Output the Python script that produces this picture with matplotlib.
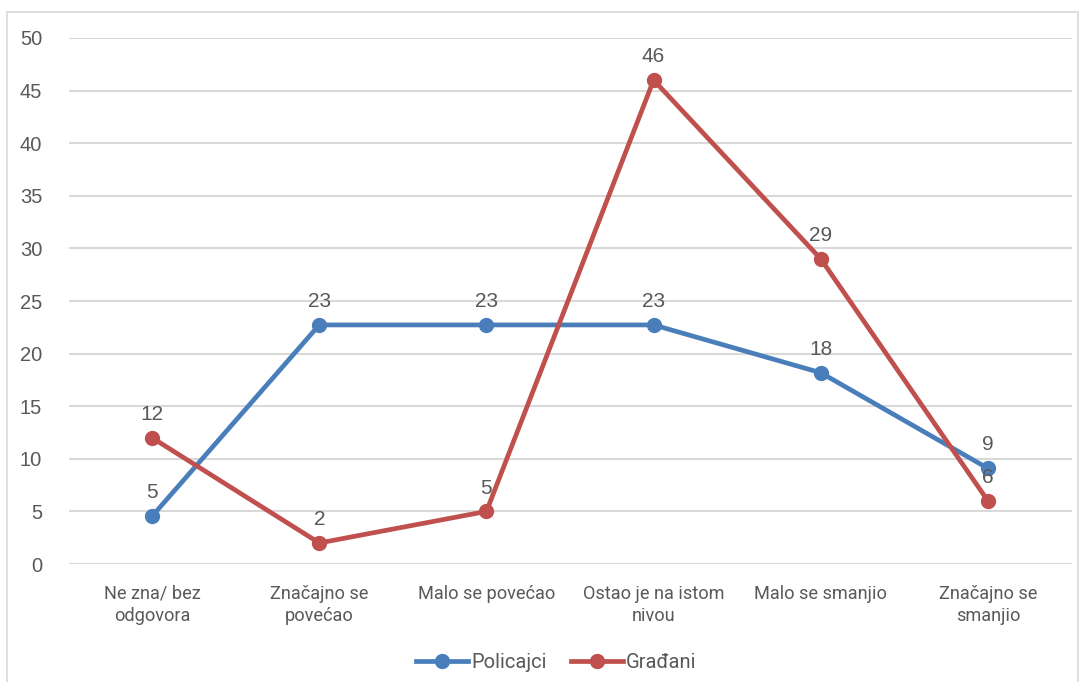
import matplotlib
matplotlib.use("Agg")
import matplotlib.pyplot as plt
from matplotlib.patches import Rectangle
from matplotlib.lines import Line2D

categories = ["Ne zna/ bez\nodgovora", "Značajno se\npovećao", "Malo se povećao",
              "Ostao je na istom\nnivou", "Malo se smanjio", "Značajno se\nsmanjio"]
policajci = [4.545, 22.727, 22.727, 22.727, 18.182, 9.091]
gradjani = [12, 2, 5, 46, 29, 6]
series_names = ["Policajci", "Građani"]
y_ticks = [0, 5, 10, 15, 20, 25, 30, 35, 40, 45, 50]

BLUE = "#4a7ebb"
RED = "#c0504d"
TEXT = "#595959"
GRID = "#d9d9d9"

fig = plt.figure(figsize=(10.84, 6.82), dpi=100)
ax = fig.add_axes([0.0632, 0.1730, 0.9253, 0.7713])

# chart frame
fig.patches.append(Rectangle((7 / 1084, -0.05), 1071 / 1084, 1.05 - 12 / 682,
                             transform=fig.transFigure, fill=False,
                             edgecolor=GRID, linewidth=1.2))

x = list(range(len(categories)))
for vals, color in ((policajci, BLUE), (gradjani, RED)):
    ax.plot(x, vals, color=color, linewidth=3.4, marker="o", markersize=10,
            solid_capstyle="round", zorder=3)
    for xi, v in zip(x, vals):
        ax.annotate(f"{v:.0f}", (xi, v), xytext=(0, 10), textcoords="offset points",
                    ha="center", va="bottom", fontsize=15, color=TEXT,
                    family="Liberation Sans", zorder=4)

ax.set_xlim(-0.5, len(categories) - 0.5)
ax.set_ylim(0, 50)
ax.set_yticks(y_ticks)
ax.set_xticks(x)
ax.set_xticklabels(categories, family="Roboto", fontsize=13.1, color=TEXT,
                   linespacing=1.33)
ax.set_yticklabels([str(t) for t in y_ticks], family="Liberation Sans",
                   fontsize=14.5, color=TEXT)
ax.tick_params(axis="both", length=0)
ax.tick_params(axis="y", pad=19)
ax.tick_params(axis="x", pad=15)
ax.grid(axis="y", color=GRID, linewidth=1.5)
ax.set_axisbelow(True)
for s in ax.spines.values():
    s.set_visible(False)

handles = [Line2D([], [], color=BLUE, linewidth=3.4, marker="o", markersize=10),
           Line2D([], [], color=RED, linewidth=3.4, marker="o", markersize=10)]
leg = fig.legend(handles, series_names, loc="center", bbox_to_anchor=(0.513, 0.029),
                 ncol=2, frameon=False, handlelength=2.6, handletextpad=0.15,
                 columnspacing=1.2, prop={"family": "Roboto", "size": 14.5})
for t in leg.get_texts():
    t.set_color(TEXT)

fig.savefig("out.png", dpi=100)
